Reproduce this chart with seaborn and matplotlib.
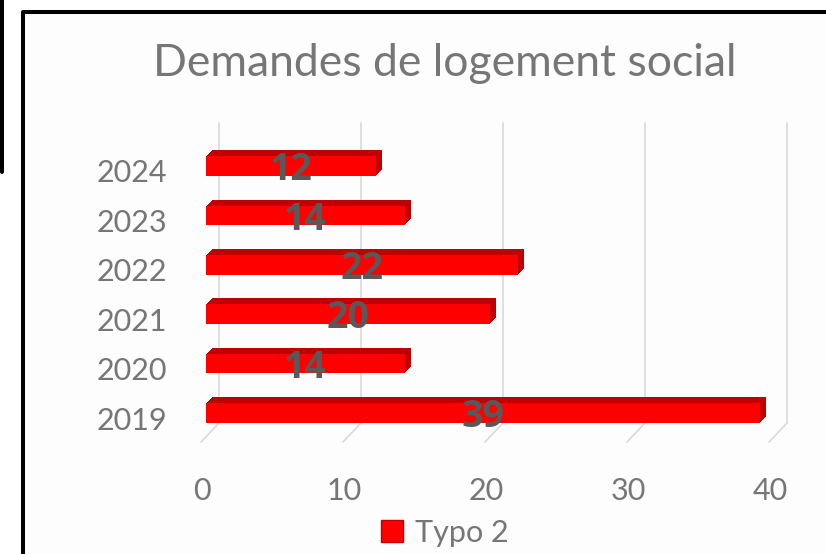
import pandas as pd
import seaborn as sns
import matplotlib.pyplot as plt
from matplotlib.transforms import ScaledTranslation, blended_transform_factory
from matplotlib.patches import Patch, Rectangle
from matplotlib.lines import Line2D

sns.set_style("white")
plt.rcParams['font.family'] = ['Lato', 'DejaVu Sans']

# data
annees = ["2024", "2023", "2022", "2021", "2020", "2019"]
demandes = [12, 14, 22, 20, 14, 39]
serie = "Typo 2"
titre = "Demandes de logement social"
x_ticks = [0, 10, 20, 30, 40]

rouge = "#FF0000"
rouge_fonce = "#C00000"
gris = "#767676"
gris_label = "#595959"
gris_grille = "#D9D9D9"

W, H = 826, 554
fig = plt.figure(figsize=(W / 100, H / 100), dpi=100, facecolor="white")

def px(dx, dy):
    # shift in pixels (dpi = 100)
    return ScaledTranslation(dx / 100, dy / 100, fig.dpi_scale_trans)

# frame like the screenshot
fig.add_artist(Rectangle((23 / W, 0), 1, 1 - 12 / H, transform=fig.transFigure,
                         facecolor="#FDFDFD", edgecolor="none", zorder=-5))
fig.add_artist(Line2D([23 / W, 23 / W, 1.01], [-0.01, 1 - 12 / H, 1 - 12 / H],
                      transform=fig.transFigure, color="black", lw=2.9))
fig.add_artist(Line2D([2 / W, 2 / W], [1.01, 1 - 172 / H],
                      transform=fig.transFigure, color="black", lw=2.9))

left, right, top, bottom = 206, 774, 123, 442
ax = fig.add_axes([left / W, 1 - bottom / H, (right - left) / W, (bottom - top) / H])
ax.set_facecolor("none")

df = pd.DataFrame({"annee": annees, "demandes": demandes})

# 3D depth of the bars: stacked shifted copies in dark red
depth = 6
for k in range(depth, 0, -1):
    n0 = len(ax.patches)
    sns.barplot(data=df, x="demandes", y="annee", order=annees, color=rouge_fonce,
                saturation=1, width=0.4, linewidth=0, ax=ax)
    for p in ax.patches[n0:]:
        p.set_transform(ax.transData + px(k, k))
sns.barplot(data=df, x="demandes", y="annee", order=annees, color=rouge,
            saturation=1, width=0.4, linewidth=0, ax=ax)

etiquettes = ax.bar_label(ax.containers[-1], label_type="center", fontsize=27,
                          fontweight="bold", color=gris_label,
                          family=["Open Sans", "DejaVu Sans"])
for e in etiquettes:
    e.xyann = (0, -3)

# back wall gridlines + floor diagonals
trans_grid = blended_transform_factory(ax.transData, ax.transAxes)
y_back = (bottom - 423) / (bottom - top)
for t in x_ticks:
    ax.plot([t, t], [y_back, 1], transform=trans_grid + px(13, 0), color=gris_grille,
            lw=1.2, zorder=0.5, clip_on=False)
    ax.annotate("", xy=(t, 0), xycoords=trans_grid + px(-5, 0), xytext=(18, 19),
                textcoords="offset pixels", zorder=0.5,
                arrowprops=dict(arrowstyle="-", color=gris_grille, lw=1.2,
                                shrinkA=0, shrinkB=0))

ax.set_xlim(0, 40)
ax.set_ylim(5.587, -0.870)
ax.set_xticks(x_ticks)
ax.set_xlabel("")
ax.set_ylabel("")
sns.despine(ax=ax, left=True, bottom=True)
ax.tick_params(axis="x", length=0, pad=25, labelsize=22, labelcolor=gris)
ax.tick_params(axis="y", length=0, pad=28, labelsize=22, labelcolor=gris)
for lbl in ax.get_xticklabels():
    lbl.set_transform(lbl.get_transform() + px(-4, 0))
for lbl in ax.get_yticklabels():
    lbl.set_transform(lbl.get_transform() + px(0, -5))

fig.text(445 / W, 1 - 76 / H, titre, ha="center", va="baseline", fontsize=32, color=gris)

fig.legend(handles=[Patch(facecolor=rouge, edgecolor=rouge_fonce, label=serie)],
           loc="center", bbox_to_anchor=(445 / W, 1 - 533 / H), frameon=False,
           fontsize=22, labelcolor=gris, handlelength=0.72, handleheight=0.72,
           handletextpad=0.4)

fig.savefig("out.png", dpi=100)
